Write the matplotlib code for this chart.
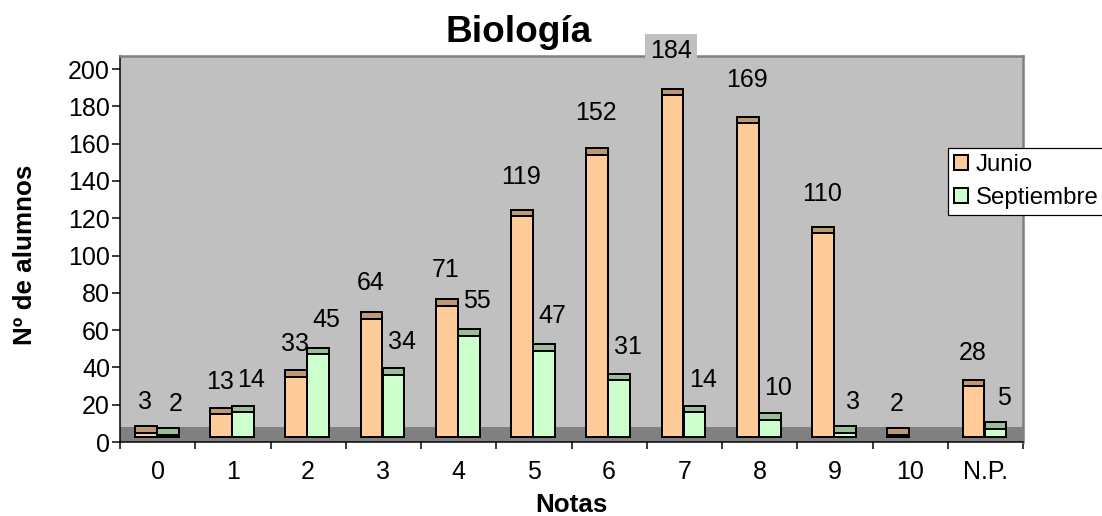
import numpy as np
import matplotlib
matplotlib.use('Agg')
import matplotlib.pyplot as plt
from matplotlib.patches import Patch

plt.rcParams['font.family'] = ['Liberation Sans', 'DejaVu Sans']

notas = ['0', '1', '2', '3', '4', '5', '6', '7', '8', '9', '10', 'N.P.']
junio = [3, 13, 33, 64, 71, 119, 152, 184, 169, 110, 2, 28]
septiembre = [2, 14, 45, 34, 55, 47, 31, 14, 10, 3, 0, 5]

W, H = 1102, 516
fig = plt.figure(figsize=(W / 72, H / 72), dpi=72)
fig.patch.set_facecolor('white')

# plot area in pixels: left 120, right 1023, bottom 442, top 56
ax = fig.add_axes([120 / W, (H - 442) / H, 903 / W, 386 / H])
ax.set_facecolor('#C0C0C0')
ax.set_xlim(-0.5, 11.5)
ax.set_ylim(0, 207)

# floor of the 3D chart
ax.axhspan(0, 8.2, color='#808080', zorder=1)

x = np.arange(len(notas))
w = 0.29
base = 2.5   # bars start a bit above zero (3D depth)
depth = 5.5  # front face sticks out above the value
cap = 3.5

# (values, bar offset, label offset, face colour, top colour)
series = [
    (junio, -0.157, -0.172, '#FFCC99', '#BF9973'),
    (septiembre, 0.135, 0.245, '#CCFFCC', '#99BF99'),
]

for vals, off, loff, fc, cc in series:
    vals = np.array(vals, dtype=float)
    xs = x + off
    keep = vals > 0
    tops = vals + depth
    ax.bar(xs[keep], tops[keep] - base, w, bottom=base, color=fc,
           edgecolor='black', linewidth=2, zorder=3)
    ax.bar(xs[keep], cap, w, bottom=tops[keep] - cap, color=cc,
           edgecolor='black', linewidth=2, zorder=4)
    for xi, v, t in zip(x[keep] + loff, vals[keep], tops[keep]):
        ly = t + 13 + 0.04 * v
        box = None
        if ly > 200:  # label sticks out of the wall: keep wall colour behind it
            box = dict(boxstyle='square,pad=0.2', facecolor='#C0C0C0',
                       edgecolor='none')
        ax.text(xi, ly, f'{int(v)}', ha='center', va='center', fontsize=25,
                zorder=2.8, clip_on=False, bbox=box)

# axes styling
ax.spines['top'].set_color('#808080')
ax.spines['right'].set_color('#808080')
ax.spines['top'].set_linewidth(2.5)
ax.spines['right'].set_linewidth(2.5)
ax.spines['left'].set_color('black')
ax.spines['left'].set_linewidth(1.5)
ax.spines['bottom'].set_color('black')
ax.spines['bottom'].set_linewidth(1.5)

ax.set_yticks(np.arange(0, 201, 20))
ax.tick_params(axis='y', direction='out', length=8, width=1.5, pad=2,
               labelsize=25, colors='black')
ax.set_xticks(x)
ax.set_xticklabels(notas)
ax.tick_params(axis='x', which='major', length=0, pad=18, labelsize=25)
ax.set_xticks(np.arange(-0.5, 12, 1), minor=True)
ax.tick_params(axis='x', which='minor', direction='out', length=7, width=1.5)

fig.text(518.5 / W, 1 - 33 / H, 'Biología', ha='center', va='center',
         fontsize=37, fontweight='bold')
fig.text(571.5 / W, 1 - 505 / H, 'Notas', ha='center', va='center',
         fontsize=26, fontweight='bold')
fig.text(25 / W, 1 - 255 / H, 'Nº de alumnos', ha='center', va='center',
         rotation=90, fontsize=26, fontweight='bold')

handles = [Patch(facecolor='#FFCC99', edgecolor='black', linewidth=2),
           Patch(facecolor='#CCFFCC', edgecolor='black', linewidth=2)]
leg = fig.legend(handles, ['Junio', 'Septiembre'], loc='upper left',
                 bbox_to_anchor=(948 / W, 1 - 148 / H), fontsize=24,
                 frameon=True, fancybox=False, edgecolor='black',
                 framealpha=1, borderaxespad=0, borderpad=0.25,
                 handlelength=0.6, handleheight=0.6, handletextpad=0.3,
                 labelspacing=0.45)
leg.get_frame().set_linewidth(1.2)
leg.set_zorder(10)

fig.savefig('out.png', dpi=72)
